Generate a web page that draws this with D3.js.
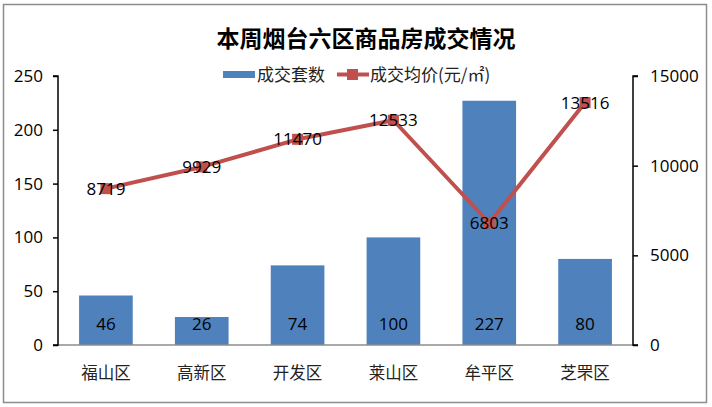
<!DOCTYPE html>
<html><head><meta charset="utf-8">
<script src="https://cdn.jsdelivr.net/npm/d3@7/dist/d3.min.js"></script>
<style>body{margin:0;background:#fff;}svg{display:block;}</style>
</head><body><svg id="c" width="712" height="407"></svg>
<script>
const categories = ["福山区","高新区","开发区","莱山区","牟平区","芝罘区"];
const units = [46,26,74,100,227,80];
const prices = [8719,9929,11470,12533,6803,13516];
const leftTicks = [0,50,100,150,200,250];
const rightTicks = [0,5000,10000,15000];
const title = "本周烟台六区商品房成交情况";
const seriesNames = ["成交套数","成交均价(元/㎡)"];

const svg = d3.select("#c");
const m={l:58,r:633,t:76,b:345};
const font = "'Noto Sans CJK SC','Noto Sans',sans-serif";
const numFont = "'Open Sans','Noto Sans',sans-serif";
svg.append("rect").attr("x",3.5).attr("y",4.5).attr("width",703).attr("height",398).attr("fill","#fff").attr("stroke","#8c8c8c").attr("stroke-width",1.5);

const x = d3.scaleBand().domain(categories).range([m.l,m.r]).paddingInner(0.44).paddingOuter(0.22);
const yL = d3.scaleLinear().domain([0,250]).range([m.b,m.t]);
const yR = d3.scaleLinear().domain([0,15000]).range([m.b,m.t]);

svg.append("text").attr("x",366).attr("y",47).attr("text-anchor","middle").attr("font-family",font).attr("font-weight","bold").attr("font-size",23).attr("fill","#000").text(title);

// bars
svg.selectAll(".bar").data(units).join("rect").attr("x",(d,i)=>x(categories[i])).attr("width",x.bandwidth())
  .attr("y",d=>yL(d)).attr("height",d=>yL(0)-yL(d)).attr("fill","#4f81bd");

// x axis line
svg.append("line").attr("x1",m.l).attr("x2",m.r).attr("y1",m.b).attr("y2",m.b).attr("stroke","#8c8c8c").attr("stroke-width",1.5);

// axes
const gl = svg.append("g").attr("transform",`translate(${m.l},0)`).call(d3.axisLeft(yL).tickValues(leftTicks).tickSize(5).tickPadding(10).tickFormat(d3.format("d")));
const gr = svg.append("g").attr("transform",`translate(${m.r},0)`).call(d3.axisRight(yR).tickValues(rightTicks).tickSize(5).tickPadding(12).tickFormat(d3.format("d")));
[gl,gr].forEach(g=>{
  g.select(".domain").attr("stroke","#000").attr("stroke-width",1.5);
  g.selectAll(".tick line").attr("stroke","#000").attr("stroke-width",1.5);
  g.selectAll(".tick text").attr("font-family",numFont).attr("font-size",17).attr("fill","#000");
});
gl.select(".domain").attr("d",`M-5,${m.t}H0V${m.b}H-5`);
gr.select(".domain").attr("d",`M5,${m.t}H0V${m.b}H5`);

// category labels
svg.selectAll(".cat").data(categories).join("text").attr("x",d=>x(d)+x.bandwidth()/2).attr("y",379)
  .attr("text-anchor","middle").attr("font-family",font).attr("font-size",16.5).attr("fill","#222").text(d=>d);

// line
const cx = i=>x(categories[i])+x.bandwidth()/2;
svg.append("path").datum(prices).attr("fill","none").attr("stroke","#c0504d").attr("stroke-width",4).attr("stroke-linejoin","round")
  .attr("d",d3.line().x((d,i)=>cx(i)).y(d=>yR(d)));
svg.selectAll(".mk").data(prices).join("rect").attr("x",(d,i)=>cx(i)-5.5).attr("y",d=>yR(d)-5.5).attr("width",11).attr("height",11).attr("fill","#c0504d");

// bar labels
svg.selectAll(".bl").data(units).join("text").attr("x",(d,i)=>cx(i)).attr("y",m.b-15).attr("text-anchor","middle")
  .attr("font-family",numFont).attr("font-size",17).attr("fill","#000").text(d=>d);
// line labels
svg.selectAll(".pl").data(prices).join("text").attr("x",(d,i)=>cx(i)).attr("y",d=>yR(d)+6).attr("text-anchor","middle")
  .attr("font-family",numFont).attr("font-size",17).attr("fill","#000").text(d=>d);

// legend
const lg = svg.append("g");
lg.append("rect").attr("x",223).attr("y",71).attr("width",32).attr("height",7).attr("fill","#4f81bd");
lg.append("text").attr("x",257).attr("y",81).attr("font-family",font).attr("font-size",17).attr("fill","#222").text(seriesNames[0]);
lg.append("line").attr("x1",337).attr("x2",369).attr("y1",74.5).attr("y2",74.5).attr("stroke","#c0504d").attr("stroke-width",4);
lg.append("rect").attr("x",347).attr("y",69).attr("width",11).attr("height",11).attr("fill","#c0504d");
lg.append("text").attr("x",370).attr("y",81).attr("font-family",font).attr("font-size",17).attr("fill","#222").text(seriesNames[1]);
</script></body></html>
